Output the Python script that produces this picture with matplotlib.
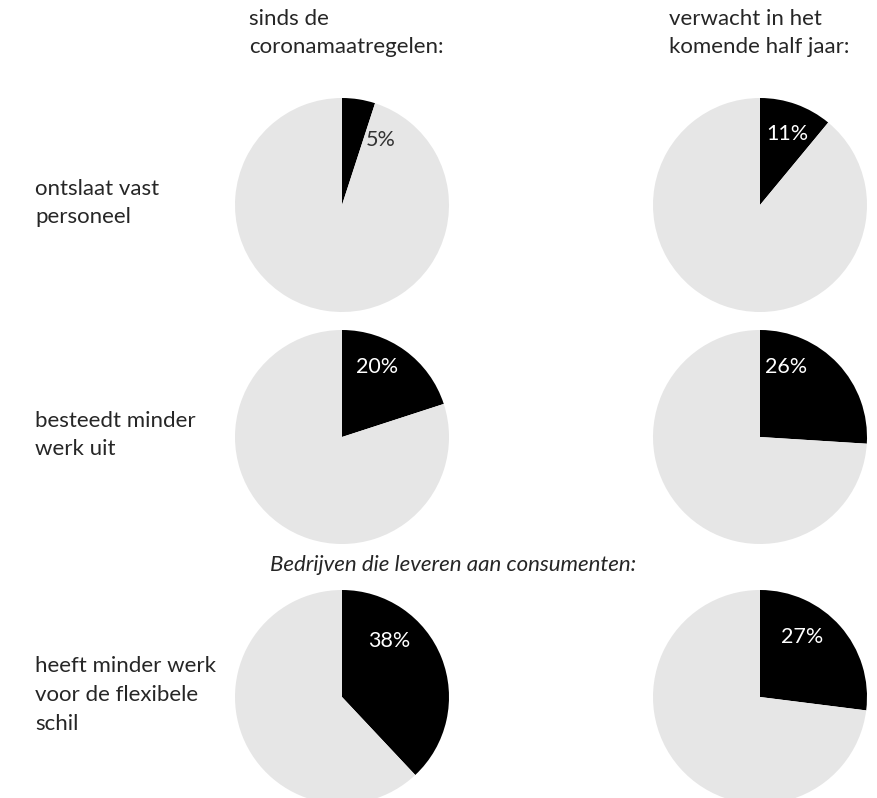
import matplotlib
matplotlib.use('Agg')
from matplotlib import pyplot as plt

# data
rows = ['ontslaat vast\npersoneel',
        'besteedt minder\nwerk uit',
        'heeft minder werk\nvoor de flexibele\nschil']
cols = ['sinds de\ncoronamaatregelen:', 'verwacht in het\nkomende half jaar:']
since = [5, 20, 38]
expected = [11, 26, 27]
subtitle = 'Bedrijven die leveren aan consumenten:'

plt.rcParams['font.family'] = ['Lato', 'DejaVu Sans']

W, H = 877, 798
fig = plt.figure(figsize=(W / 100, H / 100), dpi=100)
ax = fig.add_axes([0, 0, 1, 1])

col_x = [342, 760]
row_y = [205, 437, 697]
R = 107
# label offset from pie centre (px), per column / row
lab_off = [[(39, 65), (35, 70), (47, 56)],
           [(27, 71), (26, 70), (42, 60)]]
FS = 16

for j, vals in enumerate([since, expected]):
    for i, v in enumerate(vals):
        cx, cy = col_x[j], H - row_y[i]
        ax.pie([v, 100 - v], colors=['black', '#e6e6e6'], startangle=90,
               counterclock=False, center=(cx, cy), radius=R,
               wedgeprops=dict(linewidth=0))
        # small slice: dark text on grey, otherwise white on black
        c = '#333333' if v < 8 else 'white'
        dx, dy = lab_off[j][i]
        ax.text(cx + dx, cy + dy, f'{v}%', ha='center', va='center',
                fontsize=FS - 0.5, color=c)

for i, lab in enumerate(rows):
    ax.text(35, H - row_y[i] + 2, lab, ha='left', va='center', fontsize=FS,
            color='#262626', linespacing=1.55)

hdr_x = [249, 669]
for j, lab in enumerate(cols):
    ax.text(hdr_x[j], H - 33, lab, ha='left', va='center', fontsize=FS,
            color='#262626', linespacing=1.55)

ax.text(453, H - 565, subtitle, ha='center', va='center', fontsize=FS,
        style='italic', color='#262626')

ax.set_xlim(0, W)
ax.set_ylim(0, H)
ax.set_aspect('equal')
ax.axis('off')

fig.savefig('out.png', dpi=100)
